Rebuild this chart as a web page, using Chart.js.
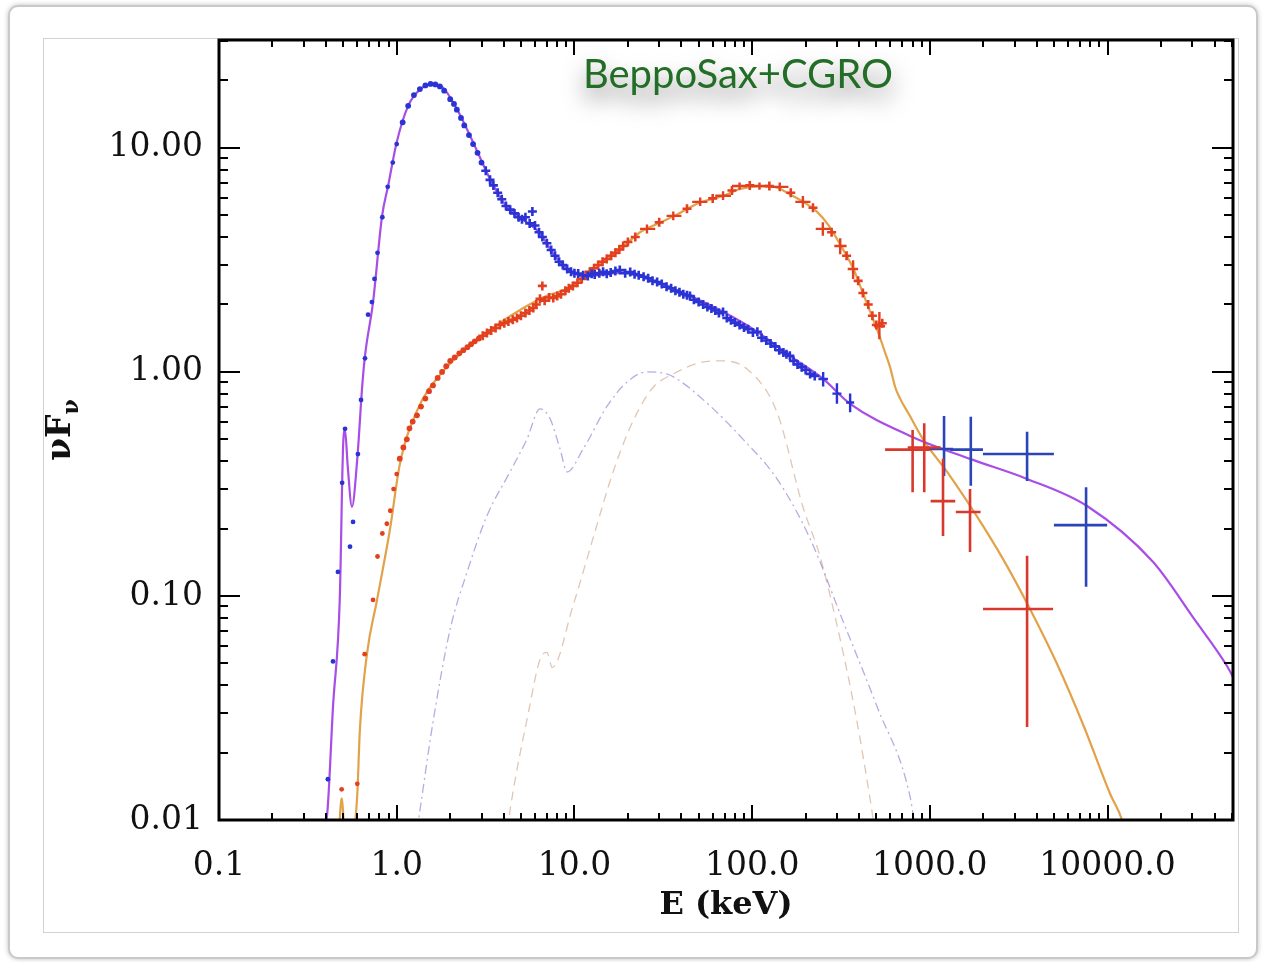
<!DOCTYPE html>
<html>
<head>
<meta charset="utf-8">
<script src="https://cdn.jsdelivr.net/npm/chart.js@4/dist/chart.umd.min.js"></script>
<style>
html,body{margin:0;padding:0;background:#fff;width:1263px;height:962px;overflow:hidden;}
#frame{position:absolute;left:8px;top:5px;width:1250px;height:954px;border:2px solid #c9c9c9;border-radius:10px;box-shadow:0 0 5px rgba(0,0,0,0.25);background:#fff;box-sizing:border-box;}
#panel{position:absolute;left:43px;top:38px;width:1196px;height:895px;border:1px solid #d2d2d2;box-sizing:border-box;background:#fff;}
#wrap{position:absolute;left:0;top:0;width:1263px;height:962px;}
</style>
</head>
<body>
<div id="frame"></div>
<div id="panel"></div>
<div id="wrap"><canvas id="c" width="1263" height="962"></canvas></div>
<script>
// ---------- axis ticks ----------
const xTickValues = [0.1, 1, 10, 100, 1000, 10000];
const xTickLabels = ['0.1', '1.0', '10.0', '100.0', '1000.0', '10000.0'];
const yTickValues = [0.01, 0.1, 1, 10];
const yTickLabels = ['0.01', '0.10', '1.00', '10.00'];

// ---------- BeppoSAX data, spectrum 1 (blue) ----------
const blueE = [0.41,0.438,0.467,0.493,0.512,0.546,0.568,0.605,0.63,0.663,0.69,0.725,0.75,0.78,0.83,0.89,0.95,1.0,1.08,1.16,1.25,1.35,1.45,1.55,1.65,1.75,1.85,
  2.0,2.1,2.18,2.3,2.4,2.55,2.69,2.85,3.0,3.17,3.35,3.5,3.7,3.9,4.12,4.35,4.6,4.85,5.07,5.3,5.6,5.8,6.0,6.32,6.6,7.0,7.4,7.78,8.2,8.6,9.1,9.57,10.0,10.5,11.2,11.9,12.5,13,13.8,14.5,15.2,16,17,18,19.3,20.6,21.8,23,24.5,26,27.5,29.2,31,33,35,37,39,41,43,44.7,47,50,53,56,59,62,65,68.6,72,76,80,85,90,95,101,107,113,120,127,135,142,150,156,163,171,180,190,200,212,225];
const blueF = [0.0152,0.051,0.128,0.32,0.557,0.166,0.214,0.43,0.75,1.15,1.8,2.05,2.6,3.4,4.9,6.7,8.6,10.4,13.0,15.4,17.2,18.3,19.0,19.3,19.2,18.8,18.0,
  16.5,15.7,14.8,13.6,12.6,11.4,10.4,9.5,8.6,7.9,7.2,6.8,6.3,5.9,5.5,5.3,5.1,4.9,4.8,4.9,4.6,5.2,4.5,4.2,4.0,3.75,3.5,3.3,3.1,3.0,2.88,2.8,2.76,2.75,2.7,2.68,2.74,2.72,2.76,2.80,2.74,2.78,2.82,2.85,2.76,2.79,2.73,2.70,2.66,2.62,2.55,2.52,2.47,2.40,2.36,2.30,2.27,2.22,2.2,2.18,2.1,2.05,2.0,1.95,1.92,1.88,1.83,1.85,1.74,1.70,1.66,1.62,1.58,1.55,1.5,1.51,1.42,1.38,1.34,1.30,1.25,1.22,1.2,1.18,1.12,1.08,1.05,1.02,0.98,0.96];
// blue PDS points with error bars
const bluePdsE = [251, 300, 356];
const bluePdsF = [0.93, 0.80, 0.73];
const bluePdsELo = [236, 283, 338];
const bluePdsEHi = [267, 318, 375];
const bluePdsFLo = [0.86, 0.72, 0.66];
const bluePdsFHi = [1.00, 0.89, 0.80];
// blue CGRO points
const blueCgroE = [1202, 1700, 3525, 7570];
const blueCgroF = [0.453, 0.45, 0.43, 0.207];
const blueCgroELo = [960, 1300, 1990, 4990];
const blueCgroEHi = [1350, 1990, 4990, 9950];
const blueCgroFLo = [0.343, 0.31, 0.326, 0.11];
const blueCgroFHi = [0.636, 0.63, 0.54, 0.306];

// ---------- BeppoSAX data, spectrum 2 (red) ----------
const redE = [0.49,0.6,0.66,0.736,0.78,0.83,0.88,0.92,0.96,1.0,1.04,1.09,1.14,1.18,1.23,1.3,1.37,1.45,1.52,1.6,1.7,1.8,1.9,2.0,2.12,2.25,2.37,2.5,2.62,2.75,2.9,3.05,3.22,3.4,3.6,3.81,4.03,4.25,4.5,4.75,5.0,5.3,5.58,5.87,6.1,6.4,6.6,6.8,7.2,7.6,8.0,8.4,8.9,9.3,9.8,10.4,11,11.6,12.2,12.9,13.6,14.4,15.2,16.1,17,17.9,18.8,20,22,30,43,60,77,97,125,165,220,280,340,395,420,450,475,500,540];
const redF = [0.0137,0.0145,0.055,0.096,0.15,0.19,0.21,0.24,0.30,0.35,0.41,0.46,0.50,0.56,0.60,0.64,0.70,0.76,0.82,0.87,0.94,1.0,1.06,1.12,1.16,1.21,1.25,1.29,1.33,1.37,1.41,1.45,1.49,1.53,1.57,1.62,1.65,1.68,1.71,1.74,1.78,1.83,1.88,1.93,2.0,2.12,2.42,2.08,2.15,2.14,2.18,2.22,2.30,2.36,2.42,2.5,2.6,2.7,2.8,2.9,3.0,3.1,3.19,3.3,3.4,3.52,3.65,3.8,4.0,4.65,5.35,5.95,6.45,6.8,6.75,6.3,5.4,4.2,3.3,2.55,2.25,2.0,1.78,1.62,1.65];
// red PDS points with error bars
const redPdsE = [25.6, 36, 51, 68.6, 85, 110, 143, 193, 250, 313, 370, 520];
const redPdsF = [4.35, 4.97, 5.74, 6.11, 6.76, 6.76, 6.7, 5.74, 4.35, 3.65, 2.88, 1.6];
const redPdsELo = [23.4, 33, 46, 62, 77, 99, 128, 175, 228, 290, 345, 485];
const redPdsEHi = [28.5, 40, 56, 76, 94, 122, 160, 213, 275, 340, 395, 560];
const redPdsFLo = [4.15, 4.75, 5.5, 5.85, 6.5, 6.5, 6.4, 5.4, 4.05, 3.35, 2.6, 1.4];
const redPdsFHi = [4.55, 5.2, 6.0, 6.4, 7.0, 7.0, 7.0, 6.1, 4.65, 3.95, 3.15, 1.85];
// red CGRO points
const redCgroE = [800, 930, 1186, 1683, 3525];
const redCgroF = [0.45, 0.46, 0.265, 0.237, 0.0875];
const redCgroELo = [560, 750, 1010, 1400, 1992];
const redCgroEHi = [1000, 1150, 1390, 1930, 4935];
const redCgroFLo = [0.29, 0.29, 0.185, 0.157, 0.026];
const redCgroFHi = [0.55, 0.59, 0.41, 0.30, 0.151];

// ---------- model curves ----------
const purpleModelE = [0.38,0.405,0.438,0.478,0.5,0.512,0.53,0.56,0.6,0.64,0.663,0.736,0.827,0.894,1.0,1.16,1.35,1.6,1.82,2.18,2.69,3.35,4.12,5.07,6.32,7.78,9.57,11.9,20,29,45,69,107,163,251,356,774,1683,3525,7670,18000,30700,47000,52000];
const purpleModelF = [0.009,0.0104,0.032,0.096,0.48,0.55,0.38,0.25,0.41,0.87,1.18,2.05,4.96,6.75,10.6,15.4,18.2,19.2,18.6,14.9,10.6,7.26,5.51,4.82,4.2,3.29,2.79,2.68,2.79,2.52,2.18,1.85,1.51,1.18,0.93,0.72,0.518,0.409,0.333,0.252,0.142,0.079,0.0487,0.042];
const orangeModelE = [0.47,0.49,0.51,0.53,0.57,0.6,0.62,0.68,0.775,0.917,1.04,1.3,1.75,2.83,6.4,9.8,12.2,15.2,18.8,23.4,30,36,51,68.6,85.5,110,135,163,193,232,270,313,370,420,475,520,560,597,640,680,760,916,1300,1845,2583,3660,5200,7380,10330,12070,13000];
const orangeModelF = [0.008,0.0125,0.008,null,0.008,0.013,0.025,0.055,0.096,0.199,0.385,0.67,0.97,1.39,2.12,2.42,2.78,3.17,3.62,4.2,4.62,4.95,5.7,6.1,6.55,6.75,6.68,6.2,5.75,5.18,4.5,3.7,2.9,2.25,1.75,1.45,1.22,1.05,0.85,0.76,0.65,0.5,0.343,0.226,0.146,0.0875,0.0497,0.026,0.0131,0.01,0.008];
// model components (dashed)
const compPurpleE = [1.3,1.35,1.6,2.0,2.49,3.22,4.34,5.41,6.4,7.3,8.3,9.09,11.2,15.3,19.8,25.6,33,37.8,58,89,138,212,325,505,774,830];
const compPurpleF = [0.009,0.011,0.0273,0.0712,0.128,0.228,0.358,0.502,0.684,0.617,0.453,0.358,0.453,0.705,0.902,1.0,0.98,0.93,0.705,0.5,0.333,0.18,0.077,0.032,0.0127,0.009];
const compOrangeE = [4.2,4.34,5.5,6.4,7.0,7.5,9.8,12.7,16.5,21.3,27.6,36,51,66,93.6,138,193,241,313,389,461,490];
const compOrangeF = [0.009,0.011,0.03,0.052,0.056,0.048,0.09,0.18,0.358,0.6,0.85,0.98,1.1,1.12,1.03,0.66,0.25,0.15,0.064,0.0275,0.0124,0.009];

// ---------- helpers ----------
function zip(xs, ys) { return xs.map((v, i) => ({ x: v, y: ys[i] })); }
function zipErr(xs, ys, xl, xh, yl, yh) {
  return xs.map((v, i) => ({ x: v, y: ys[i], xMin: xl[i], xMax: xh[i], yMin: yl[i], yMax: yh[i] }));
}

const SERIF = '"DejaVu Serif", "Liberation Serif", serif';

const errorBars = {
  id: 'errorBars',
  afterDatasetsDraw(chart) {
    const { ctx, chartArea: a, scales: { x, y } } = chart;
    ctx.save();
    ctx.beginPath();
    ctx.rect(a.left, a.top, a.right - a.left, a.bottom - a.top);
    ctx.clip();
    chart.data.datasets.forEach(ds => {
      if (!ds.errorBars) return;
      ctx.strokeStyle = ds.errColor;
      ctx.lineWidth = ds.errWidth;
      ds.data.forEach(p => {
        const px = x.getPixelForValue(p.x), py = y.getPixelForValue(p.y);
        ctx.beginPath();
        ctx.moveTo(x.getPixelForValue(p.xMin), py);
        ctx.lineTo(x.getPixelForValue(p.xMax), py);
        ctx.moveTo(px, y.getPixelForValue(p.yMin));
        ctx.lineTo(px, y.getPixelForValue(p.yMax));
        ctx.stroke();
      });
    });
    ctx.restore();
  }
};

const frameTicks = {
  id: 'frameTicks',
  afterDraw(chart) {
    const { ctx, chartArea: a, scales: { x, y } } = chart;
    ctx.save();
    ctx.strokeStyle = '#000';
    ctx.lineWidth = 2;
    ctx.beginPath();
    for (let d = 0.1; d < 1e5; d *= 10) {
      for (let m = 1; m <= 9; m++) {
        const v = d * m;
        if (v < x.min * 0.999 || v > x.max) continue;
        const px = Math.round(x.getPixelForValue(v));
        const len = m === 1 ? 15 : 7;
        ctx.moveTo(px, a.bottom); ctx.lineTo(px, a.bottom - len);
        ctx.moveTo(px, a.top); ctx.lineTo(px, a.top + len);
      }
    }
    for (let d = 0.01; d < 100; d *= 10) {
      for (let m = 1; m <= 9; m++) {
        const v = d * m;
        if (v < y.min * 0.999 || v > y.max) continue;
        const py = Math.round(y.getPixelForValue(v));
        const len = m === 1 ? 21 : 9;
        ctx.moveTo(a.left, py); ctx.lineTo(a.left + len, py);
        ctx.moveTo(a.right, py); ctx.lineTo(a.right - len, py);
      }
    }
    ctx.stroke();
    ctx.lineWidth = 3;
    ctx.strokeRect(a.left, a.top, a.right - a.left, a.bottom - a.top);

    // y-axis title  νF_ν (rotated)
    ctx.fillStyle = '#111';
    ctx.translate(58, (a.top + a.bottom) / 2);
    ctx.rotate(-Math.PI / 2);
    ctx.textBaseline = 'alphabetic';
    ctx.font = 'bold 33px ' + SERIF;
    const w1 = ctx.measureText('νF').width;
    ctx.font = 'bold 22px ' + SERIF;
    const w2 = ctx.measureText('ν').width;
    const start = -(w1 + w2) / 2;
    ctx.font = 'bold 33px ' + SERIF;
    ctx.fillText('νF', start, 12);
    ctx.font = 'bold 22px ' + SERIF;
    ctx.fillText('ν', start + w1, 20);
    ctx.restore();

    // annotation
    ctx.save();
    ctx.font = '40px Lato, "Open Sans", sans-serif';
    ctx.textAlign = 'center';
    ctx.textBaseline = 'alphabetic';
    ctx.shadowColor = 'rgba(0,0,0,0.5)';
    ctx.shadowBlur = 22;
    ctx.shadowOffsetY = 12;
    ctx.fillStyle = '#236e26';
    ctx.fillText('BeppoSax+CGRO', 738, 88);
    ctx.restore();
  }
};

const dataStyle = (ctx) => (ctx.raw && ctx.raw.x > 3 ? 'cross' : 'circle');
const dataRadius = (ctx) => (ctx.raw && ctx.raw.x > 3 ? 4.5 : (ctx.raw && ctx.raw.x > 1 ? 2.9 : 2.4));
const dataBorder = (ctx) => (ctx.raw && ctx.raw.x > 3 ? 2.6 : 0);

new Chart(document.getElementById('c'), {
  type: 'scatter',
  data: {
    datasets: [
      { label: 'comp1', data: zip(compPurpleE, compPurpleF), showLine: true, pointRadius: 0,
        borderColor: 'rgba(120,105,200,0.55)', borderWidth: 1.3, borderDash: [9, 4, 2, 4],
        tension: 0.3, cubicInterpolationMode: 'monotone', order: 10 },
      { label: 'comp2', data: zip(compOrangeE, compOrangeF), showLine: true, pointRadius: 0,
        borderColor: 'rgba(205,160,130,0.6)', borderWidth: 1.3, borderDash: [9, 6],
        tension: 0.3, cubicInterpolationMode: 'monotone', order: 10 },
      { label: 'model1', data: zip(purpleModelE, purpleModelF), showLine: true, pointRadius: 0,
        borderColor: '#a84ee6', borderWidth: 2.2, cubicInterpolationMode: 'monotone', tension: 0.4, order: 5 },
      { label: 'model2', data: zip(orangeModelE, orangeModelF), showLine: true, pointRadius: 0, spanGaps: false,
        borderColor: '#e2a24a', borderWidth: 2.2, cubicInterpolationMode: 'monotone', tension: 0.4, order: 5 },
      { label: 'blue', data: zip(blueE, blueF), pointStyle: dataStyle, pointRadius: dataRadius,
        pointBackgroundColor: '#2a33d4', pointBorderColor: '#2a33d4',
        pointBorderWidth: dataBorder, showLine: false, order: 1 },
      { label: 'red', data: zip(redE, redF), pointStyle: dataStyle, pointRadius: dataRadius,
        pointBackgroundColor: '#e2401e', pointBorderColor: '#e2401e',
        pointBorderWidth: dataBorder, showLine: false, order: 1 },
      { label: 'bluePds', data: zipErr(bluePdsE, bluePdsF, bluePdsELo, bluePdsEHi, bluePdsFLo, bluePdsFHi),
        pointRadius: 0, showLine: false, errorBars: true, errColor: '#2a33d4', errWidth: 2.4, order: 1 },
      { label: 'redPds', data: zipErr(redPdsE, redPdsF, redPdsELo, redPdsEHi, redPdsFLo, redPdsFHi),
        pointRadius: 0, showLine: false, errorBars: true, errColor: '#e2401e', errWidth: 2.4, order: 1 },
      { label: 'blueCgro', data: zipErr(blueCgroE, blueCgroF, blueCgroELo, blueCgroEHi, blueCgroFLo, blueCgroFHi),
        pointRadius: 0, showLine: false, errorBars: true, errColor: '#2b45b8', errWidth: 2.6, order: 1 },
      { label: 'redCgro', data: zipErr(redCgroE, redCgroF, redCgroELo, redCgroEHi, redCgroFLo, redCgroFHi),
        pointRadius: 0, showLine: false, errorBars: true, errColor: '#d8392c', errWidth: 2.6, order: 1 }
    ]
  },
  options: {
    responsive: false,
    animation: false,
    events: [],
    layout: { padding: { left: 0, right: 30, top: 40, bottom: 0 } },
    plugins: { legend: { display: false }, tooltip: { enabled: false } },
    scales: {
      x: {
        type: 'logarithmic', position: 'bottom', min: 0.1, max: 50800,
        grid: { display: false, drawTicks: false },
        border: { display: false },
        afterBuildTicks: s => { s.ticks = xTickValues.map(v => ({ value: v, major: true })); },
        afterFit: s => { s.height = 142; },
        ticks: {
          autoSkip: false, maxRotation: 0, padding: 27, color: '#111',
          font: { family: SERIF, size: 33 },
          callback: (v) => { const i = xTickValues.findIndex(t => Math.abs(t - v) / t < 1e-6); return i >= 0 ? xTickLabels[i] : ''; }
        },
        title: { display: true, text: 'E (keV)', color: '#111',
          font: { family: SERIF, size: 32, weight: 'bold' }, padding: { top: 0, bottom: 37 } }
      },
      y: {
        type: 'logarithmic', position: 'left', min: 0.01, max: 30.3,
        grid: { display: false, drawTicks: false },
        border: { display: false },
        afterBuildTicks: s => { s.ticks = yTickValues.map(v => ({ value: v, major: true })); },
        afterFit: s => { s.width = 219; },
        ticks: {
          autoSkip: false, padding: 16, color: '#111',
          font: { family: SERIF, size: 33 },
          callback: (v) => { const i = yTickValues.findIndex(t => Math.abs(t - v) / t < 1e-6); return i >= 0 ? yTickLabels[i] : ''; }
        }
      }
    }
  },
  plugins: [errorBars, frameTicks]
});
</script>
</body>
</html>
